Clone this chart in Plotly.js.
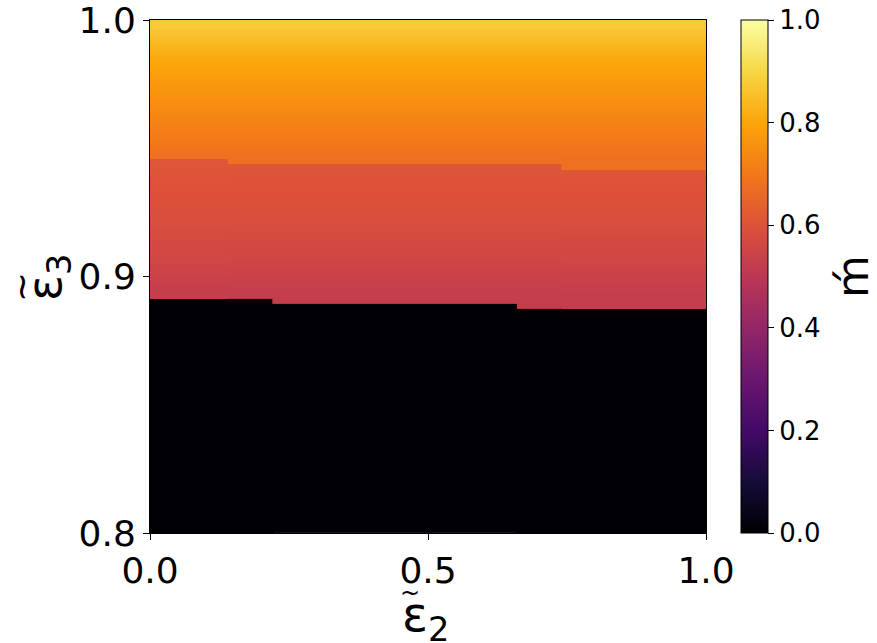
<!DOCTYPE html>
<html>
<head>
<meta charset="utf-8">
<script src="https://cdn.plot.ly/plotly-3.0.1.min.js"></script>
<style>html,body{margin:0;padding:0;background:#fff;}</style>
</head>
<body>
<div id="chart" style="width:877px;height:643px;"></div>
<script>
// Column segments along x (cell edges)
const xEdges = [0, 0.14, 0.22, 0.66, 0.74, 1.0];
// Top of the black (zero) region for each column segment
const blackTop = [0.8916, 0.8916, 0.8897, 0.8877, 0.8877];
// y of the colour step between lower and upper band for each column segment
const stepY = [0.9462, 0.9443, 0.9443, 0.9443, 0.9419];
// Lower band: interior row edges and values
const lowerEdges = [0.895, 0.900, 0.905, 0.910, 0.915, 0.920, 0.925, 0.930, 0.935, 0.940];
const lowerZ = [0.525, 0.535, 0.55, 0.56, 0.57, 0.58, 0.59, 0.595, 0.60, 0.605, 0.61];
// Upper band: interior row edges and values
const upperEdges = [0.950, 0.955, 0.960, 0.965, 0.970, 0.975, 0.980, 0.985, 0.990, 0.995];
const upperZ = [0.68, 0.70, 0.715, 0.73, 0.75, 0.765, 0.78, 0.80, 0.82, 0.845, 0.875];
const yMin = 0.8, yMax = 1.0;
const xTicks = [0.0, 0.5, 1.0];
const yTicks = [0.8, 0.9, 1.0];
const cTicks = [0.0, 0.2, 0.4, 0.6, 0.8, 1.0];
const xTitle = 'ε<sub>2</sub>';
const yTitle = 'ε<sub>3</sub>';
const cTitle = 'ḿ';

const inferno = [
  [0.0, '#000004'], [0.1, '#160b39'], [0.2, '#420a68'], [0.3, '#6a176e'],
  [0.4, '#932667'], [0.5, '#bc3754'], [0.6, '#dd513a'], [0.7, '#f37819'],
  [0.8, '#fca50a'], [0.9, '#f6d746'], [1.0, '#fcffa4']
];

const ov = 0.003; // small overlap so neighbouring segments leave no seam
const traces = [];
for (let i = 0; i < xEdges.length - 1; i++) {
  const a = xEdges[i], b = Math.min(1, xEdges[i + 1] + ov);
  const xe = [a, (a + b) / 2, b];
  traces.push({
    type: 'heatmap', x: xe, y: [yMin, blackTop[i]], z: [[0, 0]],
    coloraxis: 'coloraxis', hoverinfo: 'skip'
  });
  traces.push({
    type: 'heatmap', x: xe, y: [blackTop[i] - 0.0003].concat(lowerEdges, [stepY[i]]),
    z: lowerZ.map(v => [v, v]), zsmooth: 'best',
    coloraxis: 'coloraxis', hoverinfo: 'skip'
  });
  traces.push({
    type: 'heatmap', x: xe, y: [stepY[i] - 0.0003].concat(upperEdges, [yMax]),
    z: upperZ.map(v => [v, v]), zsmooth: 'best',
    coloraxis: 'coloraxis', hoverinfo: 'skip'
  });
}

// pixel helpers for annotation placement (plot area 150..706 x 20..533)
const px = p => (p - 150) / 556;
const py = p => (533 - p) / 513;
const black = '#000';

const layout = {
  width: 877, height: 643,
  margin: {l: 150, r: 171, t: 20, b: 110},
  paper_bgcolor: '#fff', plot_bgcolor: '#fff',
  showlegend: false,
  font: {family: 'DejaVu Sans', color: black},
  xaxis: {
    range: [0, 1], tickvals: xTicks, ticktext: xTicks.map(v => v.toFixed(1)),
    ticks: 'outside', ticklen: 6, tickcolor: black, tickwidth: 1,
    showline: true, mirror: true, linecolor: black, linewidth: 1,
    showgrid: false, zeroline: false, ticklabeloverflow: 'allow',
    tickfont: {family: 'DejaVu Sans', size: 36, color: black}
  },
  yaxis: {
    range: [yMin, yMax], tickvals: yTicks, ticktext: yTicks.map(v => v.toFixed(1)),
    ticks: 'outside', ticklen: 6, tickcolor: black, tickwidth: 1,
    showline: true, mirror: true, linecolor: black, linewidth: 1,
    showgrid: false, zeroline: false, ticklabeloverflow: 'allow',
    tickfont: {family: 'DejaVu Sans', size: 36, color: black}
  },
  coloraxis: {
    colorscale: inferno, cmin: 0, cmax: 1,
    colorbar: {
      x: px(741), xanchor: 'left', xref: 'paper',
      y: 0.5, yanchor: 'middle', len: 1, lenmode: 'fraction', ypad: 0, xpad: 0,
      thickness: 27, outlinecolor: black, outlinewidth: 1,
      tickvals: cTicks, ticktext: cTicks.map(v => v.toFixed(1)),
      ticks: 'outside', ticklen: 6, tickcolor: black,
      tickfont: {family: 'DejaVu Sans', size: 26, color: black}
    }
  },
  annotations: [
    {xref: 'paper', yref: 'paper', x: px(425), y: py(617), xanchor: 'center', yanchor: 'middle',
     text: xTitle, showarrow: false, font: {family: 'DejaVu Sans', size: 48, color: black}},
    {xref: 'paper', yref: 'paper', x: px(410), y: py(593), xanchor: 'center', yanchor: 'middle',
     text: '~', showarrow: false, font: {family: 'DejaVu Sans', size: 24, color: black}},
    {xref: 'paper', yref: 'paper', x: px(47), y: py(278), xanchor: 'center', yanchor: 'middle',
     text: yTitle, textangle: -90, showarrow: false, font: {family: 'DejaVu Sans', size: 48, color: black}},
    {xref: 'paper', yref: 'paper', x: px(21), y: py(287), xanchor: 'center', yanchor: 'middle',
     text: '~', textangle: -90, showarrow: false, font: {family: 'DejaVu Sans', size: 36, color: black}},
    {xref: 'paper', yref: 'paper', x: px(852), y: py(277), xanchor: 'center', yanchor: 'middle',
     text: cTitle, textangle: -90, showarrow: false, font: {family: 'DejaVu Sans', size: 44, color: black}}
  ]
};

Plotly.newPlot('chart', traces, layout, {displayModeBar: false, staticPlot: true});
</script>
</body>
</html>
